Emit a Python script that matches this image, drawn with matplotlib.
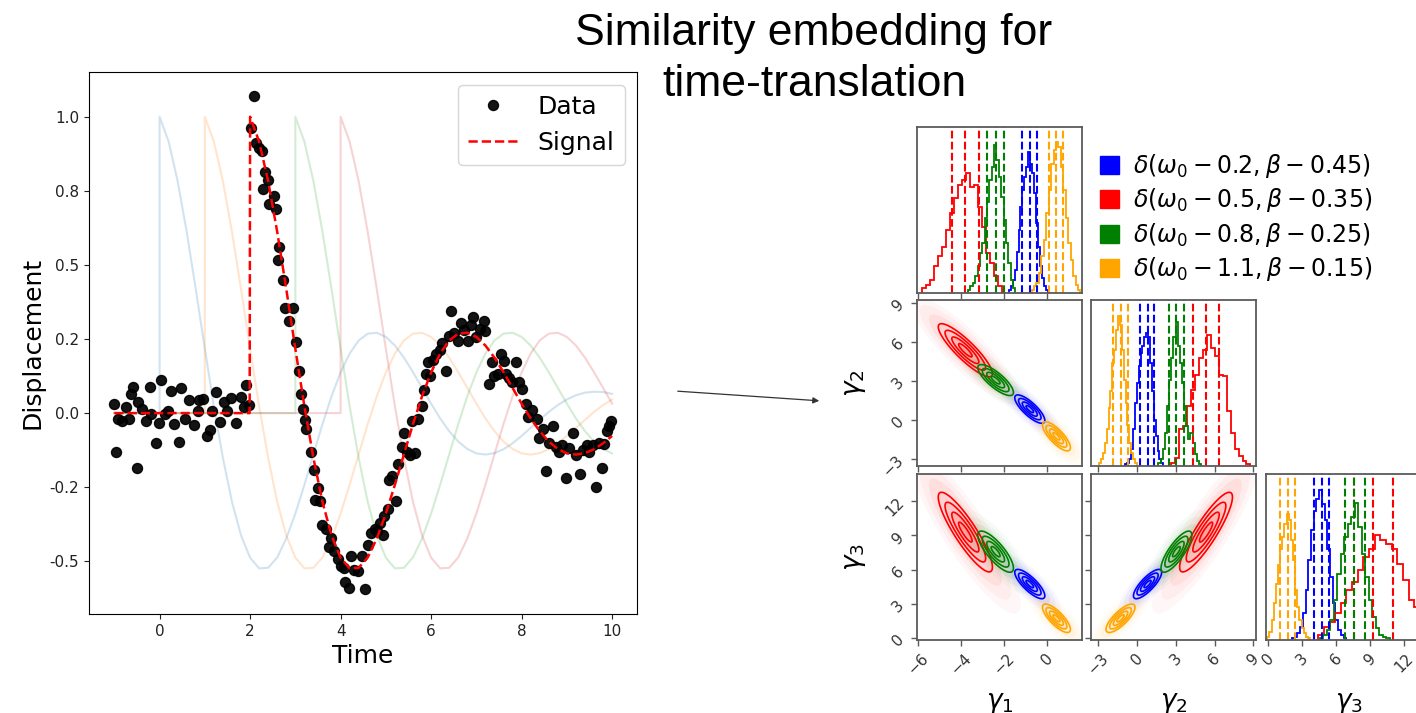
import numpy as np
import matplotlib
matplotlib.use("Agg")
import matplotlib.pyplot as plt
from matplotlib.ticker import FormatStrFormatter
from matplotlib.patches import Patch

# ---------------- left panel data ----------------
tau_step = 0.2
signal_template = [1.000, 0.916, 0.782, 0.611, 0.418, 0.217, 0.023, -0.152, -0.300, -0.413,
                   -0.488, -0.524, -0.522, -0.487, -0.423, -0.339, -0.242, -0.139, -0.037, 0.057,
                   0.137, 0.201, 0.245, 0.268, 0.271, 0.257, 0.228, 0.187, 0.138, 0.085,
                   0.032, -0.018, -0.061, -0.096, -0.121, -0.136, -0.140, -0.135, -0.122, -0.102,
                   -0.077, -0.050, -0.023, 0.004, 0.027, 0.046, 0.060, 0.069, 0.072, 0.071, 0.065]
signal_start = 2.0
shifted_starts = [0.0, 1.0, 3.0, 4.0]
t_min, t_max = -1.0, 10.0

data_t = [-1.01, -0.97, -0.92, -0.83, -0.74, -0.67, -0.63, -0.58, -0.51, -0.47,
          -0.38, -0.31, -0.22, -0.18, -0.09, -0.02, 0.04, 0.11, 0.18, 0.25,
          0.32, 0.42, 0.48, 0.57, 0.66, 0.75, 0.84, 0.88, 0.97, 1.04,
          1.11, 1.16, 1.25, 1.34, 1.43, 1.50, 1.58, 1.68, 1.79, 1.86,
          1.90, 1.97,
          2.01, 2.08, 2.13, 2.19, 2.26, 2.28, 2.33, 2.40, 2.42, 2.53,
          2.58, 2.62, 2.64, 2.73, 2.78, 2.85, 2.94, 3.01, 3.07, 3.12,
          3.16, 3.21, 3.23, 3.34, 3.41, 3.43, 3.50, 3.55, 3.59, 3.68,
          3.74, 3.79, 3.86, 3.94, 4.00, 4.07, 4.09, 4.18, 4.22, 4.30,
          4.39, 4.48, 4.55, 4.60, 4.68, 4.75, 4.81, 4.86, 4.93, 4.96,
          5.04, 5.08, 5.14, 5.22, 5.26, 5.35, 5.40, 5.46, 5.53, 5.58,
          5.65, 5.71, 5.80, 5.85, 5.89, 5.94, 5.98, 6.05, 6.10, 6.19,
          6.25, 6.32, 6.39, 6.44, 6.50, 6.59, 6.66, 6.73, 6.82, 6.89,
          6.93, 7.00, 7.07, 7.16, 7.20, 7.27, 7.34, 7.40, 7.47, 7.55,
          7.61, 7.65, 7.72, 7.79, 7.88, 7.94, 8.01, 8.09, 8.15, 8.24,
          8.33, 8.39, 8.47, 8.54, 8.60, 8.69, 8.75, 8.83, 8.90, 8.97,
          9.05, 9.14, 9.21, 9.28, 9.35, 9.44, 9.50, 9.57, 9.64, 9.71,
          9.78, 9.82, 9.88, 9.94, 9.98]
data_y = [0.029, -0.132, -0.019, -0.026, 0.019, -0.019, 0.066, 0.087, -0.187, 0.036,
          0.015, -0.026, 0.088, -0.003, -0.102, -0.033, 0.112, -0.003, 0.008, 0.074,
          -0.036, -0.099, 0.084, -0.019, 0.043, -0.040, 0.006, 0.045, 0.047, -0.077,
          -0.056, 0.008, 0.070, -0.030, 0.036, 0.008, 0.050, -0.033, 0.055, 0.022,
          0.094, 0.028,
          0.961, 1.069, 0.910, 0.893, 0.883, 0.755, 0.814, 0.787, 0.704, 0.731,
          0.690, 0.518, 0.559, 0.449, 0.353, 0.311, 0.355, 0.240, 0.143, 0.063,
          0.015, -0.022, -0.054, -0.132, -0.191, -0.292, -0.253, -0.295, -0.377, -0.391,
          -0.453, -0.421, -0.467, -0.494, -0.515, -0.522, -0.570, -0.591, -0.481, -0.529,
          -0.532, -0.481, -0.595, -0.446, -0.405, -0.391, -0.398, -0.371, -0.412, -0.347,
          -0.322, -0.226, -0.212, -0.295, -0.171, -0.116, -0.067, -0.132, -0.140, -0.026,
          -0.136, -0.019, 0.025, 0.077, 0.132, 0.174, 0.125, 0.180, 0.201, 0.212,
          0.236, 0.143, 0.259, 0.346, 0.270, 0.242, 0.304, 0.281, 0.242, 0.298,
          0.325, 0.256, 0.284, 0.311, 0.277, 0.098, 0.174, 0.125, 0.132, 0.198,
          0.176, 0.132, 0.118, 0.105, 0.171, 0.105, 0.080, 0.029, -0.012, 0.011,
          -0.019, -0.085, -0.054, -0.196, -0.102, -0.044, -0.113, -0.132, -0.109, -0.219,
          -0.118, -0.067, -0.140, -0.205, -0.123, -0.109, -0.132, -0.109, -0.251, -0.102,
          -0.185, -0.105, -0.061, -0.044, -0.026]

y_ticks = [-0.5, -0.25, 0.0, 0.25, 0.5, 0.75, 1.0]
x_ticks = [0, 2, 4, 6, 8, 10]

# ---------------- corner plot data ----------------
cluster_colors = ['blue', 'red', 'green', 'orange']
cluster_labels = [r'$\delta(\omega_0-0.2,\beta-0.45)$',
                  r'$\delta(\omega_0-0.5,\beta-0.35)$',
                  r'$\delta(\omega_0-0.8,\beta-0.25)$',
                  r'$\delta(\omega_0-1.1,\beta-0.15)$']
# 16 / 50 / 84 % quantiles per dimension (blue, red, green, orange)
quant_g1 = [[-1.14, -0.79, -0.44], [-4.42, -3.79, -3.16], [-2.80, -2.38, -1.97], [0.12, 0.45, 0.77]]
quant_g2 = [[0.26, 0.82, 1.35], [4.33, 5.34, 6.37], [2.47, 3.05, 3.66], [-1.83, -1.27, -0.71]]
quant_g3 = [[4.07, 4.72, 5.36], [7.57, 9.29, 11.07], [6.76, 7.57, 8.57], [1.08, 1.71, 2.33]]
# pairwise correlations of each cluster (g1-g2, g1-g3, g2-g3)
corr_g1g2 = [-0.80, -0.88, -0.80, -0.78]
corr_g1g3 = [-0.80, -0.88, -0.80, -0.78]
corr_g2g3 = [0.80, 0.88, 0.80, 0.78]

# histogram bins: left edge, bin width, heights (fraction of panel height)
hist_left_g1 = [-1.77, -5.79, -3.66, -0.71]
hist_width_g1 = [0.091, 0.186, 0.11, 0.114]
hist_g1_blue = [0.02, 0.04, 0.08, 0.14, 0.25, 0.38, 0.52, 0.62, 0.70, 0.76, 0.85, 0.78, 0.72, 0.60, 0.42, 0.28, 0.16, 0.09, 0.04, 0.02]
hist_g1_red = [0.03, 0.05, 0.08, 0.16, 0.22, 0.28, 0.38, 0.48, 0.57, 0.65, 0.68, 0.72, 0.64, 0.65, 0.52, 0.40, 0.24, 0.18, 0.10, 0.04]
hist_g1_green = [0.02, 0.04, 0.06, 0.10, 0.16, 0.24, 0.30, 0.45, 0.55, 0.68, 0.76, 0.89, 0.80, 0.70, 0.58, 0.44, 0.30, 0.18, 0.08, 0.03]
hist_g1_orange = [0.02, 0.04, 0.06, 0.12, 0.22, 0.32, 0.48, 0.62, 0.78, 0.86, 0.91, 0.88, 0.76, 0.62, 0.45, 0.30, 0.20, 0.10, 0.05, 0.02]

hist_left_g2 = [-0.89, 2.67, 1.66, -2.92]
hist_width_g2 = [0.146, 0.305, 0.165, 0.146]
hist_g2_blue = [0.01, 0.02, 0.04, 0.10, 0.22, 0.38, 0.50, 0.60, 0.68, 0.72, 0.78, 0.80, 0.78, 0.62, 0.45, 0.28, 0.18, 0.09, 0.04, 0.02]
hist_g2_red = [0.02, 0.05, 0.22, 0.24, 0.36, 0.46, 0.55, 0.65, 0.70, 0.79, 0.71, 0.66, 0.55, 0.54, 0.33, 0.20, 0.10, 0.06, 0.03, 0.01]
hist_g2_green = [0.02, 0.04, 0.10, 0.20, 0.36, 0.52, 0.65, 0.78, 0.87, 0.72, 0.62, 0.50, 0.36, 0.24, 0.16, 0.20, 0.14, 0.07, 0.03, 0.01]
hist_g2_orange = [0.02, 0.04, 0.08, 0.14, 0.22, 0.35, 0.45, 0.62, 0.70, 0.82, 0.905, 0.85, 0.70, 0.52, 0.38, 0.25, 0.14, 0.08, 0.04, 0.02]

hist_left_g3 = [2.10, 4.42, 4.57, -0.09]
hist_width_g3 = [0.24, 0.50, 0.31, 0.19]
hist_g3_blue = [0.01, 0.02, 0.04, 0.08, 0.16, 0.30, 0.48, 0.66, 0.78, 0.85, 0.905, 0.82, 0.72, 0.55, 0.38, 0.22, 0.12, 0.06, 0.03, 0.01]
hist_g3_red = [0.03, 0.08, 0.11, 0.16, 0.22, 0.30, 0.35, 0.42, 0.50, 0.55, 0.634, 0.60, 0.58, 0.55, 0.46, 0.36, 0.24, 0.20, 0.12, 0.05]
hist_g3_green = [0.01, 0.03, 0.06, 0.12, 0.24, 0.40, 0.52, 0.62, 0.70, 0.74, 0.825, 0.68, 0.52, 0.38, 0.24, 0.14, 0.07, 0.03, 0.02, 0.01]
hist_g3_orange = [0.02, 0.05, 0.12, 0.22, 0.34, 0.45, 0.55, 0.62, 0.70, 0.76, 0.72, 0.60, 0.48, 0.30, 0.20, 0.12, 0.07, 0.04, 0.02, 0.01]

axis_ranges = [(-6.04, 1.64), (-3.55, 9.2), (-0.2, 14.4)]
axis_ticks = [[-6, -4, -2, 0], [-3, 0, 3, 6, 9], [0, 3, 6, 9, 12]]
axis_names = [r'$\gamma_1$', r'$\gamma_2$', r'$\gamma_3$']
title_lines = ['Similarity embedding for', 'time-translation']

# ---------------- figure ----------------
W, H = 1416, 713
fig = plt.figure(figsize=(W / 100, H / 100), dpi=100)

# left panel
ax = fig.add_axes([89 / W, 1 - 614 / H, (637 - 89) / W, (614 - 72) / H])
tau = np.arange(len(signal_template)) * tau_step
tmpl = np.array(signal_template)
faint_cols = ['C0', 'C1', 'C2', 'C3']
for s, c in zip(shifted_starts, faint_cols):
    tt = s + tau
    keep = tt <= t_max + 1e-9
    ax.plot(np.concatenate([[t_min, s], tt[keep]]), np.concatenate([[0, 0], tmpl[keep]]),
            color=c, alpha=0.2, lw=1.5)
ax.plot(data_t, data_y, 'o', color='black', ms=7.2, alpha=0.92, label='Data', zorder=3)
tt = signal_start + tau
keep = tt <= t_max + 1e-9
ax.plot(np.concatenate([[t_min, signal_start - 0.01], tt[keep]]),
        np.concatenate([[0, 0], tmpl[keep]]), 'r--', lw=1.8, label='Signal', zorder=4)
ax.set_xlim(-1.56, 10.55)
ax.set_ylim(-0.678, 1.151)
ax.set_yticks(y_ticks)
ax.set_xticks(x_ticks)
ax.yaxis.set_major_formatter(FormatStrFormatter('%.1f'))
ax.tick_params(labelsize=11, colors='#222222')
ax.set_xlabel('Time', fontsize=18)
ax.set_ylabel('Displacement', fontsize=18)
ax.legend(loc='upper right', fontsize=18, borderaxespad=0.5)

# title (two lines)
for line, yc in zip(title_lines, [33, 85]):
    fig.text(814 / W, 1 - yc / H, line, ha='center', va='center',
             fontsize=32, family='Liberation Sans')

# arrow
fig.patches.append(matplotlib.patches.FancyArrowPatch(
    (675 / W, 1 - 391 / H), (822 / W, 1 - 401 / H), transform=fig.transFigure,
    arrowstyle='-|>', mutation_scale=9, lw=0.9, color='#333333'))

# corner
quants = [quant_g1, quant_g2, quant_g3]
hist_left = [hist_left_g1, hist_left_g2, hist_left_g3]
hist_width = [hist_width_g1, hist_width_g2, hist_width_g3]
hists = [[hist_g1_blue, hist_g1_red, hist_g1_green, hist_g1_orange],
         [hist_g2_blue, hist_g2_red, hist_g2_green, hist_g2_orange],
         [hist_g3_blue, hist_g3_red, hist_g3_green, hist_g3_orange]]
corr = {(0, 1): corr_g1g2, (0, 2): corr_g1g3, (1, 2): corr_g2g3}

L = [917, 1091, 1266]
T = [127, 300, 474]
AW, AH = 165, 166


def style(a):
    for s in a.spines.values():
        s.set_color('#5a5a5a')
        s.set_linewidth(1.3)
    a.tick_params(direction='out', length=4, width=1, color='#5a5a5a', labelcolor='#333333', labelsize=11)


for i in range(3):
    for j in range(i + 1):
        a = fig.add_axes([L[j] / W, 1 - (T[i] + AH) / H, AW / W, AH / H])
        style(a)
        a.set_xlim(*axis_ranges[j])
        a.set_xticks(axis_ticks[j])
        if i == j:
            for k, c in enumerate(cluster_colors):
                h = hists[i][k]
                edges = hist_left[i][k] + hist_width[i][k] * np.arange(len(h) + 1)
                a.stairs(h, edges, color=c, lw=1.3)
                for q in quants[i][k]:
                    a.axvline(q, color=c, ls='--', lw=1.5)
            a.set_ylim(0, 1)
            a.set_yticks([])
        else:
            a.set_ylim(*axis_ranges[i])
            a.set_yticks(axis_ticks[i])
            gx = np.linspace(*axis_ranges[j], 400)
            gy = np.linspace(*axis_ranges[i], 400)
            X, Y = np.meshgrid(gx, gy)
            for k, c in enumerate(cluster_colors):
                mx, sx = quants[j][k][1], (quants[j][k][2] - quants[j][k][0]) / 2
                my, sy = quants[i][k][1], (quants[i][k][2] - quants[i][k][0]) / 2
                r = corr[(j, i)][k]
                dx = (X - mx) / sx
                dy = (Y - my) / sy
                d = np.sqrt((dx ** 2 - 2 * r * dx * dy + dy ** 2) / (1 - r ** 2))
                for lo, hi, al in [(3.4, 4.1, 0.03), (2.7, 3.4, 0.07), (2.0, 2.7, 0.13), (1.5, 2.0, 0.18),
                                   (1.0, 1.5, 0.24), (0.5, 1.0, 0.3), (0.0, 0.5, 0.36)]:
                    a.contourf(X, Y, d, levels=[lo, hi], colors=[c], alpha=al, antialiased=True)
                a.contour(X, Y, d, levels=[0.5, 1.0, 1.5, 2.0], colors=[c], linewidths=1.2)
        if i == 2:
            for lab in a.get_xticklabels():
                lab.set_rotation(45)
            a.set_xlabel(axis_names[j], fontsize=19)
            a.xaxis.set_label_coords(0.5, -0.3)
        else:
            a.set_xticklabels([])
        if j == 0 and i > 0:
            for lab in a.get_yticklabels():
                lab.set_rotation(45)
            a.set_ylabel(axis_names[i], fontsize=19)
            a.yaxis.set_label_coords(-0.3, 0.5)
        else:
            a.set_yticklabels([])

handles = [Patch(facecolor=c, edgecolor=c) for c in cluster_colors]
fig.legend(handles, cluster_labels, loc='upper left', bbox_to_anchor=(1100 / W, 1 - 152 / H),
           frameon=False, fontsize=17, handlelength=0.8, handleheight=0.8, handletextpad=0.6,
           labelspacing=0.27, borderpad=0, borderaxespad=0)

fig.savefig('out.png', dpi=100)
